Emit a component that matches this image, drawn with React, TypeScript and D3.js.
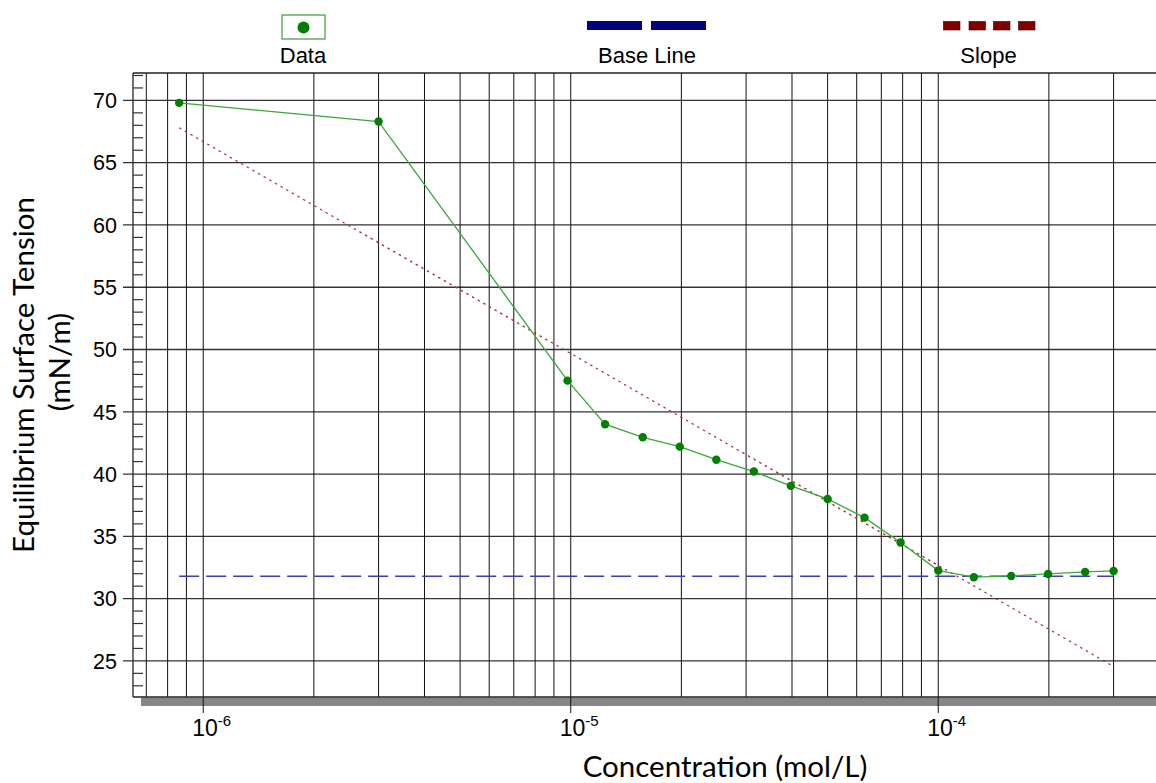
import React from "react";
import { scaleLog, scaleLinear, line } from "d3";

// measured data (concentration mol/L, surface tension mN/m)
const concentration = [
  8.6e-7, 3.0e-6, 9.8e-6, 1.24e-5, 1.57e-5, 1.98e-5, 2.49e-5, 3.15e-5, 3.97e-5,
  5.0e-5, 6.3e-5, 7.9e-5, 1.0e-4, 1.25e-4, 1.58e-4, 1.99e-4, 2.51e-4, 3.0e-4,
];
const tension = [
  69.8, 68.3, 47.5, 44.0, 42.95, 42.2, 41.15, 40.2, 39.05,
  38.0, 36.5, 34.5, 32.25, 31.72, 31.82, 31.98, 32.14, 32.22,
];
const baseLineValue = 31.8;
const slopeConc = [8.6e-7, 3.0e-4];
const slopeTension = [67.8, 24.55];

const yTicks = [25, 30, 35, 40, 45, 50, 55, 60, 65, 70];
const xDecades = [1e-6, 1e-5, 1e-4];
const xExponents = ["-6", "-5", "-4"];

const width = 1156;
const height = 783;
const plot = { left: 133, top: 73, right: 1159.5, bottom: 697 };
const labelFont = "'Liberation Sans', Arial, sans-serif";
const titleFont = "Lato, 'Open Sans', sans-serif";

const App = () => {
  const x = scaleLog().domain([6.44e-7, 4.0e-4]).range([plot.left, plot.right]);
  const y = scaleLinear().domain([22.1, 72.2]).range([plot.bottom, plot.top]);

  const points = concentration.map((c, i) => [c, tension[i]] as [number, number]);
  const path = line<[number, number]>()
    .x(d => x(d[0]))
    .y(d => y(d[1]));

  const slopePts = slopeConc.map((c, i) => [c, slopeTension[i]] as [number, number]);
  const basePts: [number, number][] = [
    [concentration[0], baseLineValue],
    [concentration[concentration.length - 1], baseLineValue],
  ];

  const minorY: number[] = [];
  for (let v = 23; v <= 72; v++) if (v % 5 !== 0) minorY.push(v);

  const gridX = x.ticks().filter(t => x(t) > plot.left + 1);

  return (
    <svg
      width={width}
      height={height}
      style={{ position: "absolute", left: 0, top: 0, background: "#fff" }}
    >
      {/* legend */}
      <g fontFamily={labelFont} fontSize={22} textAnchor="middle" fill="#000">
        <rect x={282} y={15} width={43} height={24} fill="#fff" stroke="#3c9c3c" strokeWidth={1.2} />
        <circle cx={303.5} cy={27.5} r={6} fill="#008000" />
        <text x={303} y={62.5}>Data</text>

        <rect x={587} y={21} width={55} height={9} fill="#000080" />
        <rect x={651} y={21} width={55} height={9} fill="#000080" />
        <text x={647} y={62.5}>Base Line</text>

        {[943.5, 969, 993.5, 1018.5].map(bx => (
          <rect key={bx} x={bx} y={21.5} width={16.5} height={8.5} fill="#800000" stroke="#300" strokeWidth={0.6} />
        ))}
        <text x={988.5} y={62.5}>Slope</text>
      </g>

      {/* grey shadow under x axis */}
      <rect x={141} y={plot.bottom + 0.5} width={width - 141} height={8.5} fill="#878587" />

      {/* horizontal grid */}
      {yTicks.map(t => (
        <line key={t} x1={123} x2={plot.right} y1={y(t)} y2={y(t)} stroke="#333" strokeWidth={1.3} />
      ))}

      {/* vertical grid */}
      {gridX.map(t => {
        const isDecade = xDecades.some(d => Math.abs(d - t) / d < 1e-6);
        return (
          <line
            key={t}
            x1={x(t)}
            x2={x(t)}
            y1={plot.top}
            y2={isDecade ? 713 : plot.bottom}
            stroke="#111"
            strokeWidth={1}
          />
        );
      })}

      {/* frame */}
      <line x1={plot.left} x2={plot.right} y1={plot.top} y2={plot.top} stroke="#222" strokeWidth={1.3} />
      <line x1={plot.left} x2={plot.left} y1={plot.top} y2={plot.bottom} stroke="#222" strokeWidth={1.3} />
      <line x1={plot.left} x2={plot.right} y1={plot.bottom} y2={plot.bottom} stroke="#222" strokeWidth={1.3} />

      {/* minor y ticks */}
      {minorY.map(v => (
        <line key={v} x1={plot.left} x2={plot.left + 10} y1={y(v)} y2={y(v)} stroke="#333" strokeWidth={1.2} />
      ))}

      {/* y tick labels */}
      <g fontFamily={labelFont} fontSize={21.5} textAnchor="end" fill="#000">
        {yTicks.map(t => (
          <text key={t} x={117} y={y(t)} dy="0.36em">{t}</text>
        ))}
      </g>

      {/* x tick labels */}
      <g fontFamily={labelFont} fontSize={23} fill="#000">
        {xDecades.map((d, i) => (
          <text key={d} x={x(d) - 11} y={736}>
            10
            <tspan fontSize={15} dy={-10}>{xExponents[i]}</tspan>
          </text>
        ))}
      </g>

      {/* base line */}
      <path d={path(basePts) || ""} fill="none" stroke="#3c3cb4" strokeWidth={1.5} strokeDasharray="20,7" />

      {/* slope */}
      <path d={path(slopePts) || ""} fill="none" stroke="#a83232" strokeWidth={1.3} strokeDasharray="2.5,4" />

      {/* data */}
      <path d={path(points) || ""} fill="none" stroke="#3aa83a" strokeWidth={1.3} />
      {points.map((p, i) => (
        <circle key={i} cx={x(p[0])} cy={y(p[1])} r={4.2} fill="#008000" />
      ))}

      {/* axis titles */}
      <g fontFamily={titleFont} fontSize={29.5} textAnchor="middle" fill="#000">
        <text x={725} y={777}>Concentration (mol/L)</text>
        <text transform="translate(34,375) rotate(-90)">Equilibrium Surface Tension</text>
        <text transform="translate(70,362) rotate(-90)">(mN/m)</text>
      </g>
    </svg>
  );
};

export default App;
